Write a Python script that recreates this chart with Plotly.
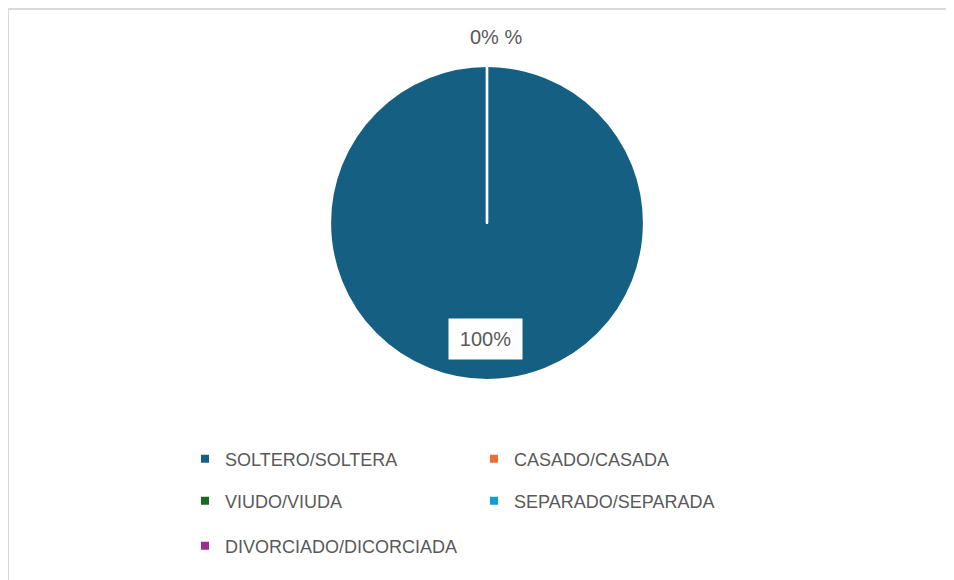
import plotly.graph_objects as go

# ---- data ----
labels = ["SOLTERO/SOLTERA", "CASADO/CASADA", "VIUDO/VIUDA",
          "SEPARADO/SEPARADA", "DIVORCIADO/DICORCIADA"]
values = [100, 0, 0, 0, 0]
colors = ["#156082", "#E97132", "#196B24", "#0F9ED5", "#A02B93"]
legend_rows = ["legend", "legend", "legend2", "legend2", "legend3"]

W, H = 954, 580
OFF = 8  # page body margin
FONT = "Liberation Sans, Arial, sans-serif"
GREY = "#595959"

def px(x):
    return (x - OFF) / W

def py(y):
    return 1 - (y - OFF) / H

total = sum(values)
pcts = [v / total * 100 for v in values]

fig = go.Figure()
fig.add_trace(go.Pie(
    labels=labels, values=values, sort=False, direction="clockwise", rotation=0,
    marker=dict(colors=colors, line=dict(color="white", width=2.2)),
    textinfo="none", showlegend=False,
    domain=dict(x=[px(330), px(644)], y=[py(380), py(66)]),
))

# legend entries (square markers)
for lab, col, lg in zip(labels, colors, legend_rows):
    fig.add_trace(go.Scatter(
        x=[None], y=[None], mode="markers", name=lab,
        marker=dict(symbol="square", size=8, color=col),
        legend=lg, showlegend=True, hoverinfo="skip",
    ))

# data labels
big = [p for p in pcts if p > 0]
zero = [p for p in pcts if p == 0]
fig.add_annotation(
    x=px(486), y=py(339), xref="paper", yref="paper",
    text=f"{big[0]:.0f}%", showarrow=False,
    font=dict(family=FONT, size=20, color=GREY),
    bgcolor="white", width=71, height=38, align="center",
)
fig.add_annotation(
    x=px(496), y=py(37), xref="paper", yref="paper", yanchor="middle",
    text=f"{zero[0]:.0f}% %", showarrow=False,
    font=dict(family=FONT, size=20, color=GREY),
)

# chart border
fig.add_shape(type="rect", xref="paper", yref="paper",
              x0=px(8), x1=px(990), y0=py(610), y1=py(9),
              line=dict(color="#D9D9D9", width=2), fillcolor="rgba(0,0,0,0)",
              layer="below")

leg_common = dict(orientation="h", xanchor="left", yanchor="middle",
                  font=dict(family=FONT, size=18, color=GREY),
                  entrywidthmode="pixels", itemwidth=30,
                  bgcolor="rgba(0,0,0,0)", borderwidth=0)
lx = px(185)
fig.update_layout(
    width=W, height=H,
    margin=dict(l=0, r=0, t=0, b=0),
    paper_bgcolor="white", plot_bgcolor="white",
    xaxis=dict(visible=False), yaxis=dict(visible=False),
    legend=dict(x=lx, y=py(459), entrywidth=244, **leg_common),
    legend2=dict(x=lx, y=py(501), entrywidth=244, **leg_common),
    legend3=dict(x=lx, y=py(546), entrywidth=320, **leg_common),
    showlegend=True,
)

fig.write_html("out.html")
